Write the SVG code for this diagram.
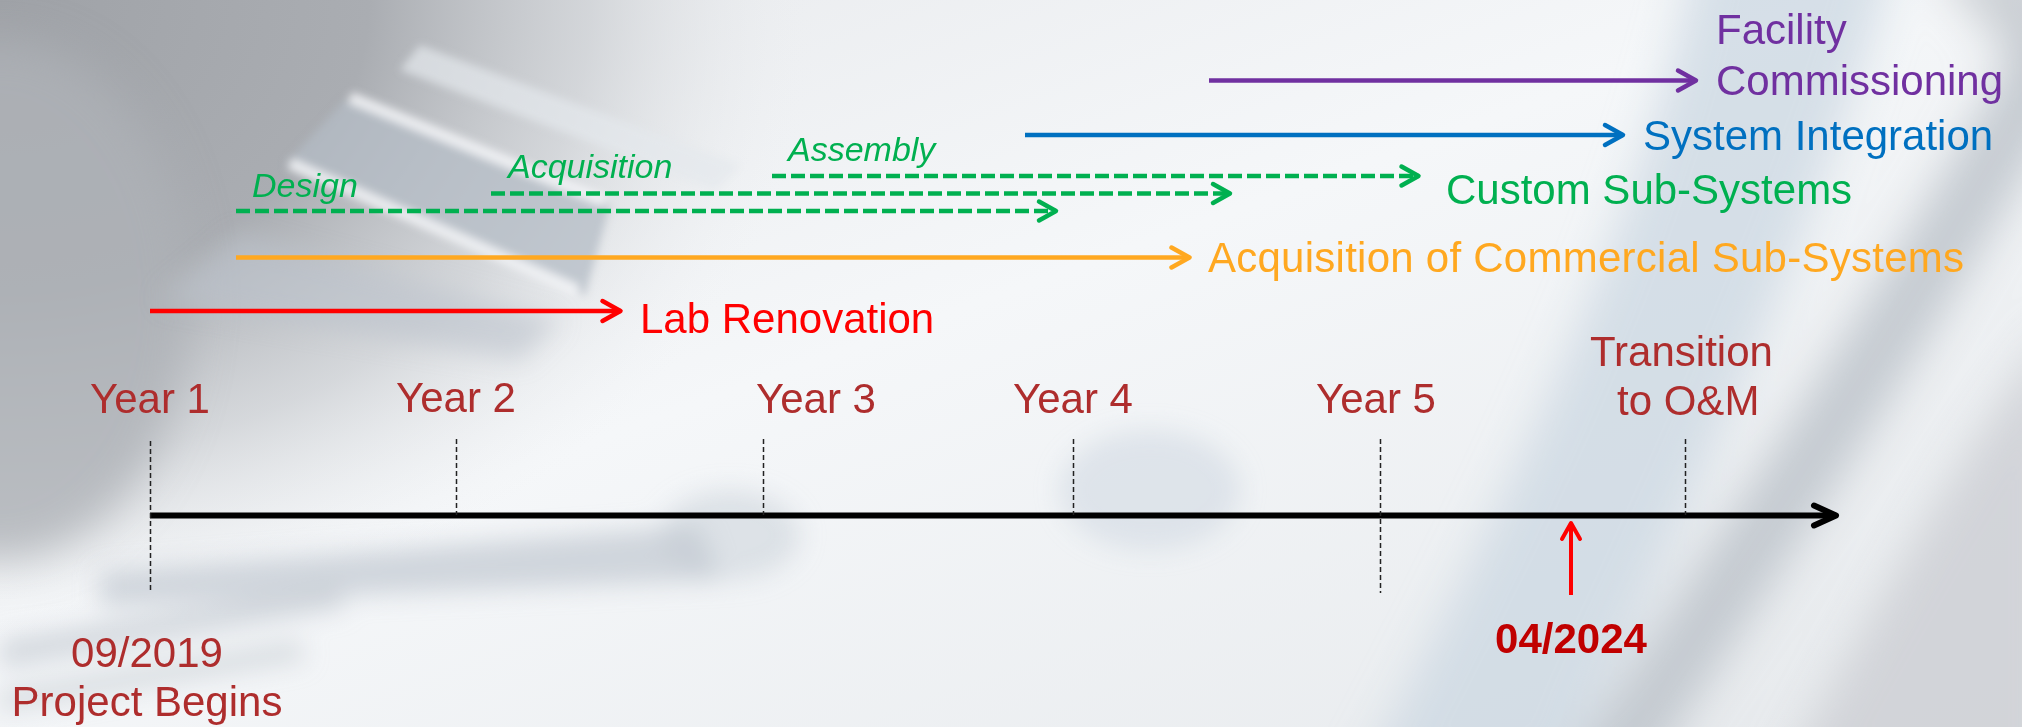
<svg xmlns="http://www.w3.org/2000/svg" width="2022" height="727" viewBox="0 0 2022 727">
<style>
.t{font-family:"Liberation Sans",Arial,sans-serif;font-size:42px}
.yr{fill:#AE2D2D}
.ph{font-family:"Liberation Sans",Arial,sans-serif;font-size:34px;font-style:italic;fill:#00B050}
.ln{fill:none;stroke-width:4.5}
.dash{stroke:#00B050;stroke-dasharray:14 5}
.tick{stroke:#222;stroke-width:1.5;stroke-dasharray:5 3;fill:none}
</style>
<defs>
<radialGradient id="gTL" cx="0" cy="0" r="1" gradientUnits="userSpaceOnUse" gradientTransform="translate(0,0) scale(820,640)">
<stop offset="0" stop-color="#9fa2a7"/>
<stop offset="0.45" stop-color="#aaadb2"/>
<stop offset="0.72" stop-color="#c9ccd0" stop-opacity="0.7"/>
<stop offset="1" stop-color="#eef0f2" stop-opacity="0"/>
</radialGradient>
<linearGradient id="gBase" x1="0" y1="0" x2="1" y2="1">
<stop offset="0" stop-color="#e6e8eb"/>
<stop offset="0.45" stop-color="#f5f7f9"/>
<stop offset="1" stop-color="#e6e9ec"/>
</linearGradient>
<filter id="blurL" x="-30%" y="-30%" width="160%" height="160%"><feGaussianBlur stdDeviation="22"/></filter>
<filter id="blurM" x="-30%" y="-30%" width="160%" height="160%"><feGaussianBlur stdDeviation="12"/></filter>
<filter id="blurS" x="-30%" y="-30%" width="160%" height="160%"><feGaussianBlur stdDeviation="4"/></filter>
<marker id="mPurple" markerUnits="userSpaceOnUse" markerWidth="30" markerHeight="30" refX="0" refY="0" orient="auto" overflow="visible"><path d="M-18,-10 L0,0 L-18,10" fill="none" stroke="#7030A0" stroke-width="4.5" stroke-linecap="round" stroke-linejoin="round"/></marker>
<marker id="mBlue" markerUnits="userSpaceOnUse" markerWidth="30" markerHeight="30" refX="0" refY="0" orient="auto" overflow="visible"><path d="M-18,-10 L0,0 L-18,10" fill="none" stroke="#0070C0" stroke-width="4.5" stroke-linecap="round" stroke-linejoin="round"/></marker>
<marker id="mGreen" markerUnits="userSpaceOnUse" markerWidth="30" markerHeight="30" refX="0" refY="0" orient="auto" overflow="visible"><path d="M-17,-9.5 L0,0 L-17,9.5" fill="none" stroke="#00B050" stroke-width="4.5" stroke-linecap="round" stroke-linejoin="round"/></marker>
<marker id="mOrange" markerUnits="userSpaceOnUse" markerWidth="30" markerHeight="30" refX="0" refY="0" orient="auto" overflow="visible"><path d="M-18,-10 L0,0 L-18,10" fill="none" stroke="#FFA820" stroke-width="4.5" stroke-linecap="round" stroke-linejoin="round"/></marker>
<marker id="mRed" markerUnits="userSpaceOnUse" markerWidth="30" markerHeight="30" refX="0" refY="0" orient="auto" overflow="visible"><path d="M-18,-10 L0,0 L-18,10" fill="none" stroke="#FF0000" stroke-width="4.5" stroke-linecap="round" stroke-linejoin="round"/></marker>
<marker id="mRedUp" markerUnits="userSpaceOnUse" markerWidth="30" markerHeight="30" refX="0" refY="0" orient="auto" overflow="visible"><path d="M-16,-9 L0,0 L-16,9" fill="none" stroke="#FF0000" stroke-width="4" stroke-linecap="round" stroke-linejoin="round"/></marker>
<marker id="mBlack" markerUnits="userSpaceOnUse" markerWidth="40" markerHeight="40" refX="0" refY="0" orient="auto" overflow="visible"><path d="M-22,-10 L0,0 L-22,10" fill="none" stroke="#000" stroke-width="6" stroke-linecap="round" stroke-linejoin="round"/></marker>
</defs>

<g id="background">
<rect width="2022" height="727" fill="url(#gBase)"/>
<rect width="2022" height="727" fill="url(#gTL)"/>
<g filter="url(#blurL)">
<ellipse cx="0" cy="300" rx="190" ry="260" fill="#aeb2b7" opacity="0.8"/>
<path d="M1700,-60 C1650,200 1520,480 1360,780 L1560,780 C1700,480 1820,220 1900,-60 Z" fill="#cbd7e2" opacity="0.75"/>
<path d="M2060,40 C1940,260 1800,480 1600,780" fill="none" stroke="#b7bec6" stroke-width="70" opacity="0.75"/>
<path d="M1780,780 C1880,600 1960,450 2060,320 L2060,780 Z" fill="#cfd2d6" opacity="0.9"/>
<path d="M1930,-40 L2060,-40 L2060,120 Z" fill="#c2c7cc" opacity="0.8"/>
</g>
<g filter="url(#blurM)">
<ellipse cx="1150" cy="490" rx="90" ry="60" fill="#ccd6e0" opacity="0.5"/>
<ellipse cx="730" cy="535" rx="70" ry="45" fill="#c8d0d8" opacity="0.5"/>
<path d="M100,572 L700,525 L720,580 L100,606 Z" fill="#c0c8d0" opacity="0.7"/>
<path d="M0,640 L340,585 L345,608 L0,668 Z" fill="#c5cbd1" opacity="0.7"/>
<path d="M0,690 L300,640 L305,660 L0,712 Z" fill="#c5cbd1" opacity="0.6"/>
<path d="M240,235 L560,320 L520,360 L160,300 Z" fill="#bcc3cb" opacity="0.6"/>
</g>
<g filter="url(#blurS)">
<path d="M345,100 L610,205 L585,295 L285,165 Z" fill="#b4bcc5" opacity="0.75"/>
<path d="M420,45 L740,165 L715,190 L400,70 Z" fill="#e4e8ec" opacity="0.7"/>
<path d="M352,92 L606,196 L602,207 L348,103 Z" fill="#f4f6f8" opacity="0.85"/>
<path d="M292,158 L580,285 L576,296 L288,169 Z" fill="#f4f6f8" opacity="0.85"/>
</g>
</g>

<g id="connectors">
<line class="ln" x1="1209" y1="80.5" x2="1696" y2="80.5" stroke="#7030A0" marker-end="url(#mPurple)"/>
<line class="ln" x1="1025" y1="135" x2="1623" y2="135" stroke="#0070C0" marker-end="url(#mBlue)"/>
<line class="ln dash" x1="772" y1="176" x2="1418.5" y2="176" marker-end="url(#mGreen)"/>
<line class="ln dash" x1="491" y1="193.5" x2="1230" y2="193.5" marker-end="url(#mGreen)"/>
<line class="ln dash" x1="236" y1="211" x2="1056" y2="211" marker-end="url(#mGreen)"/>
<line class="ln" x1="236" y1="257.5" x2="1189.5" y2="257.5" stroke="#FFA820" marker-end="url(#mOrange)"/>
<line class="ln" x1="150" y1="311" x2="620.5" y2="311" stroke="#FF0000" marker-end="url(#mRed)"/>
<line x1="150" y1="515.5" x2="1836" y2="515.5" stroke="#000" stroke-width="6" marker-end="url(#mBlack)"/>
<line class="tick" x1="150.5" y1="441" x2="150.5" y2="591"/>
<line class="tick" x1="456.5" y1="439" x2="456.5" y2="515"/>
<line class="tick" x1="763.5" y1="439" x2="763.5" y2="515"/>
<line class="tick" x1="1073.5" y1="439" x2="1073.5" y2="515"/>
<line class="tick" x1="1380.5" y1="439" x2="1380.5" y2="593"/>
<line class="tick" x1="1685.5" y1="439" x2="1685.5" y2="515"/>
<line x1="1571" y1="595" x2="1571" y2="523" stroke="#FF0000" stroke-width="4" marker-end="url(#mRedUp)"/>
</g>

<g id="facility-commissioning"><text class="t" x="1716" y="44" fill="#7030A0">Facility</text><text class="t" x="1716" y="95" fill="#7030A0">Commissioning</text></g>
<g id="system-integration"><text class="t" x="1643" y="150" fill="#0070C0">System Integration</text></g>
<g id="custom-sub-systems"><text class="t" x="1446" y="204" fill="#00B050">Custom Sub-Systems</text></g>
<g id="phase-assembly"><text class="ph" x="788" y="161">Assembly</text></g>
<g id="phase-acquisition"><text class="ph" x="508" y="178">Acquisition</text></g>
<g id="phase-design"><text class="ph" x="252" y="197">Design</text></g>
<g id="commercial-sub-systems"><text class="t" x="1208" y="272" fill="#FFA820" textLength="756" lengthAdjust="spacing">Acquisition of Commercial Sub-Systems</text></g>
<g id="lab-renovation"><text class="t" x="640" y="333" fill="#FF0000">Lab Renovation</text></g>
<g id="year1"><text class="t yr" x="90" y="413">Year 1</text></g>
<g id="year2"><text class="t yr" x="396" y="412">Year 2</text></g>
<g id="year3"><text class="t yr" x="756" y="413">Year 3</text></g>
<g id="year4"><text class="t yr" x="1013" y="413">Year 4</text></g>
<g id="year5"><text class="t yr" x="1316" y="413">Year 5</text></g>
<g id="transition"><text class="t yr" x="1590" y="366">Transition</text><text class="t yr" x="1617" y="415">to O&amp;M</text></g>
<g id="project-begins"><text class="t yr" x="147" y="667" text-anchor="middle">09/2019</text><text class="t yr" x="147" y="716" text-anchor="middle">Project Begins</text></g>
<g id="current-date"><text class="t" x="1571" y="653" text-anchor="middle" font-weight="bold" fill="#C00000">04/2024</text></g>
</svg>
